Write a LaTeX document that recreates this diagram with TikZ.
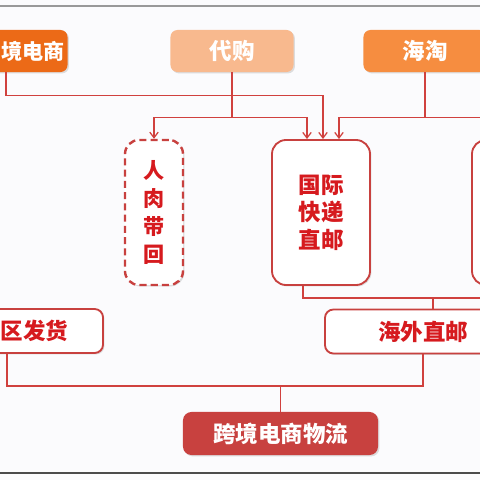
\documentclass[tikz,border=0pt]{standalone}
\usepackage{fontspec}
\usepackage{tikz}
\usepackage{xcolor}
\usetikzlibrary{arrows.meta,calc,shadows}
\setmainfont{Noto Sans CJK SC}
\definecolor{Orange}{HTML}{EC6A17}
\definecolor{Peach}{HTML}{F8B98E}
\definecolor{Amber}{HTML}{F68D40}
\definecolor{Brick}{HTML}{C8413F}
\definecolor{Red}{HTML}{D61A1E}
\definecolor{Wire}{HTML}{D0413E}
\definecolor{Paper}{HTML}{FBFBFD}

\begin{document}
\begin{tikzpicture}[x=0.025cm,y=-0.025cm,
  shade/.style={drop shadow={opacity=0.25,shadow xshift=1pt,shadow yshift=-1pt}},
  top/.style={shade,rounded corners=5pt,minimum width=3.075cm,minimum height=1.05cm,inner sep=0pt,
    text=white,font=\fontsize{16}{19}\selectfont\bfseries},
  tall/.style={shade,rounded corners=10pt,fill=white,draw=Brick,line width=1.3pt,inner sep=0pt,
    minimum height=3.625cm,text=Red,align=center,font=\fontsize{16}{19.5}\selectfont\bfseries},
  flat/.style={shade,rounded corners=6pt,fill=white,draw=Brick,line width=1.3pt,inner sep=0pt,
    minimum height=1.1cm,text=Red,font=\fontsize{16}{19}\selectfont\bfseries},
  wire/.style={draw=Wire,line width=0.9pt},
  arrow/.style={wire,-{Straight Barb[length=4pt,width=6pt]}}]
  \useasboundingbox (0,0) rectangle (480,480);
  \clip (0,0) rectangle (480,480);
  \fill[Paper] (0,0) rectangle (480,480);
  \draw[gray!80,line width=1.2pt] (0,6) -- (480,6);
  \draw[black!70,line width=1.2pt] (0,473) -- (480,473);

  \node[top,fill=Orange,inner xsep=0.0625cm,text width=2.95cm,align=right,
    font=\fontsize{15}{19}\selectfont\bfseries] (kjds) at (6,51) {境电商};
  \node[top,fill=Peach] (daigou) at (232,51) {代购};
  \node[top,fill=Amber] (haitao) at (425,51) {海淘};

  \node[tall,dashed,dash pattern=on 5pt off 3pt,line width=1.7pt,minimum width=1.45cm,
    font=\fontsize{15}{20}\selectfont\bfseries] (renrou) at (154,212.5) {人\\肉\\带\\回};
  \node[tall,minimum width=2.45cm] (guoji) at (321,212.5) {国际\\快递\\直邮};
  \node[tall,minimum width=2.45cm] (zhuanyun) at (521,212.5) {};

  \node[flat,minimum width=4.8cm,inner xsep=0.875cm,text width=3.05cm,align=right] (baoshui) at (7,331) {区发货};
  \node[flat,minimum width=4.9cm] (haiwai) at (423,331.5) {海外直邮};
  \node[shade,rounded corners=6pt,fill=Brick,minimum width=4.875cm,minimum height=1.075cm,inner sep=0pt,
    text=white,font=\fontsize{16}{19}\selectfont\bfseries] (wuliu) at (280.5,433.5) {跨境电商物流};

  \draw[arrow] (kjds.south) -- ++(0,23) -| ($(guoji.north)+(2,0)$);
  \draw[arrow] (daigou.south) -- ++(0,45) -| (renrou.north);
  \draw[arrow] (daigou.south) -- ++(0,45) -| ($(guoji.north)+(-14,0)$);
  \draw[arrow] (haitao.south) -- ++(0,45) -| ($(guoji.north)+(18,0)$);
  \draw[arrow] (haitao.south) -- ++(0,45) -| (zhuanyun.north);

  \draw[wire] ($(guoji.south)+(-18,0)$) -- ++(0,12) -| ($(haiwai.north)+(10,0)$);
  \draw[wire] ($(zhuanyun.south)+(-18,0)$) -- ++(0,12) -| ($(haiwai.north)+(10,0)$);
  \draw[wire] (baoshui.south) -- ++(0,32) -| (haiwai.south);
  \draw[wire] (wuliu.north) -- ++(0,-27);
\end{tikzpicture}
\end{document}
